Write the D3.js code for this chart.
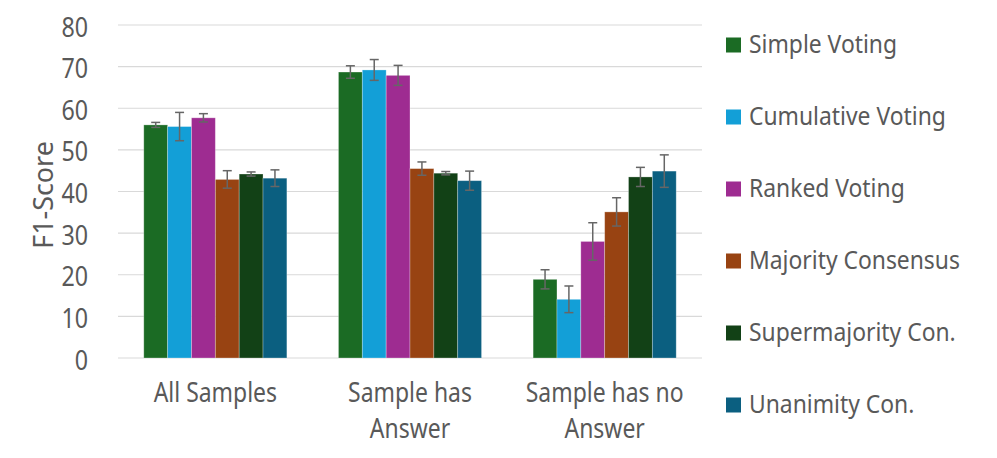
<!DOCTYPE html>
<html>
<head>
<meta charset="utf-8">
<script src="https://cdn.jsdelivr.net/npm/d3@7"></script>
<style>
  body { margin: 0; background: #fff; }
  text { font-family: "Noto Sans", sans-serif; fill: #595959; }
</style>
</head>
<body>
<svg></svg>
<script>
var categories = [['All Samples'], ['Sample has', 'Answer'], ['Sample has no', 'Answer']];
var seriesNames = ['Simple Voting', 'Cumulative Voting', 'Ranked Voting', 'Majority Consensus', 'Supermajority Con.', 'Unanimity Con.'];
var colors = ['#1b6b24', '#139fd7', '#9e2c91', '#984312', '#124116', '#0b5f80'];
// values per series, one per category
var values = [
  [56.0, 68.7, 18.9],
  [55.6, 69.2, 14.1],
  [57.7, 67.9, 28.0],
  [42.9, 45.5, 35.1],
  [44.2, 44.4, 43.5],
  [43.2, 42.6, 44.9]
];
var errors = [
  [0.6, 1.5, 2.3],
  [3.4, 2.5, 3.2],
  [1.0, 2.4, 4.5],
  [2.1, 1.6, 3.4],
  [0.5, 0.4, 2.3],
  [2.0, 2.3, 3.9]
];
var yTicks = [0, 10, 20, 30, 40, 50, 60, 70, 80];

var width = 997, height = 458;
var svg = d3.select('svg').attr('width', width).attr('height', height);

var margin = {top: 25, left: 118, right: 295, bottom: 100};
var chartWidth = width - margin.left - margin.right,
  chartHeight = height - margin.top - margin.bottom;
var g = svg.append('g').attr('transform', 'translate(' + margin.left + ',' + margin.top + ')');

var x0 = d3.scaleBand().domain(d3.range(categories.length)).range([0, chartWidth]).paddingInner(0.265).paddingOuter(0.1325);
var x1 = d3.scaleBand().domain(d3.range(seriesNames.length)).range([0, x0.bandwidth()]);
var y = d3.scaleLinear().domain([0, 80]).range([chartHeight, 0]);

// the original font is narrower than Noto Sans, so squeeze text horizontally
function label(parent, x, y, size, sx, anchor, str, rot) {
  return parent.append('text')
    .attr('transform', 'translate(' + x + ',' + y + ')' + (rot ? ' rotate(' + rot + ')' : '') + ' scale(' + sx + ',1)')
    .attr('text-anchor', anchor)
    .style('font-size', size + 'px')
    .text(str);
}

// grid
g.selectAll('line.grid').data(yTicks).enter().append('line')
  .attr('class', 'grid')
  .attr('x1', 0).attr('x2', chartWidth)
  .attr('y1', function(d) { return y(d); }).attr('y2', function(d) { return y(d); })
  .attr('stroke', '#d9d9d9').attr('stroke-width', 1.2);

// y tick labels
yTicks.forEach(function(t) {
  label(g, -30, y(t) + 11.5, 28, 0.83, 'end', t);
});

label(svg, 53, 195, 28, 0.96, 'middle', 'F1-Score', -90);

// bars
var groups = g.selectAll('g.cat').data(categories).enter().append('g')
  .attr('class', 'cat')
  .attr('transform', function(d, i) { return 'translate(' + x0(i) + ',0)'; });

groups.each(function(c, ci) {
  var grp = d3.select(this);
  seriesNames.forEach(function(s, si) {
    var v = values[si][ci], e = errors[si][ci];
    var bx = x1(si), bw = x1.bandwidth();
    grp.append('rect')
      .attr('x', bx).attr('width', bw)
      .attr('y', y(v)).attr('height', y(0) - y(v))
      .attr('fill', colors[si])
      .attr('stroke', '#ffffff').attr('stroke-opacity', 0.35).attr('stroke-width', 0.8);
    var cx = bx + bw / 2;
    grp.append('line').attr('x1', cx).attr('x2', cx)
      .attr('y1', y(v + e)).attr('y2', y(v - e))
      .attr('stroke', '#666').attr('stroke-width', 1.5);
    [v + e, v - e].forEach(function(t) {
      grp.append('line').attr('x1', cx - 4.5).attr('x2', cx + 4.5)
        .attr('y1', y(t)).attr('y2', y(t))
        .attr('stroke', '#666').attr('stroke-width', 1.5);
    });
  });
});

// category labels
categories.forEach(function(lines, i) {
  lines.forEach(function(l, li) {
    label(g, x0(i) + x0.bandwidth() / 2, chartHeight + 44 + li * 36, 27, 0.85, 'middle', l);
  });
});

// legend
var legend = svg.selectAll('g.legend').data(seriesNames).enter().append('g')
  .attr('class', 'legend')
  .attr('transform', function(d, i) { return 'translate(726,' + (52.5 + i * 72) + ')'; });
legend.append('rect').attr('x', 0).attr('y', -15).attr('width', 15).attr('height', 15)
  .attr('fill', function(d, i) { return colors[i]; });
legend.each(function(d) {
  label(d3.select(this), 23, 0, 26, 0.88, 'start', d);
});
</script>
</body>
</html>
